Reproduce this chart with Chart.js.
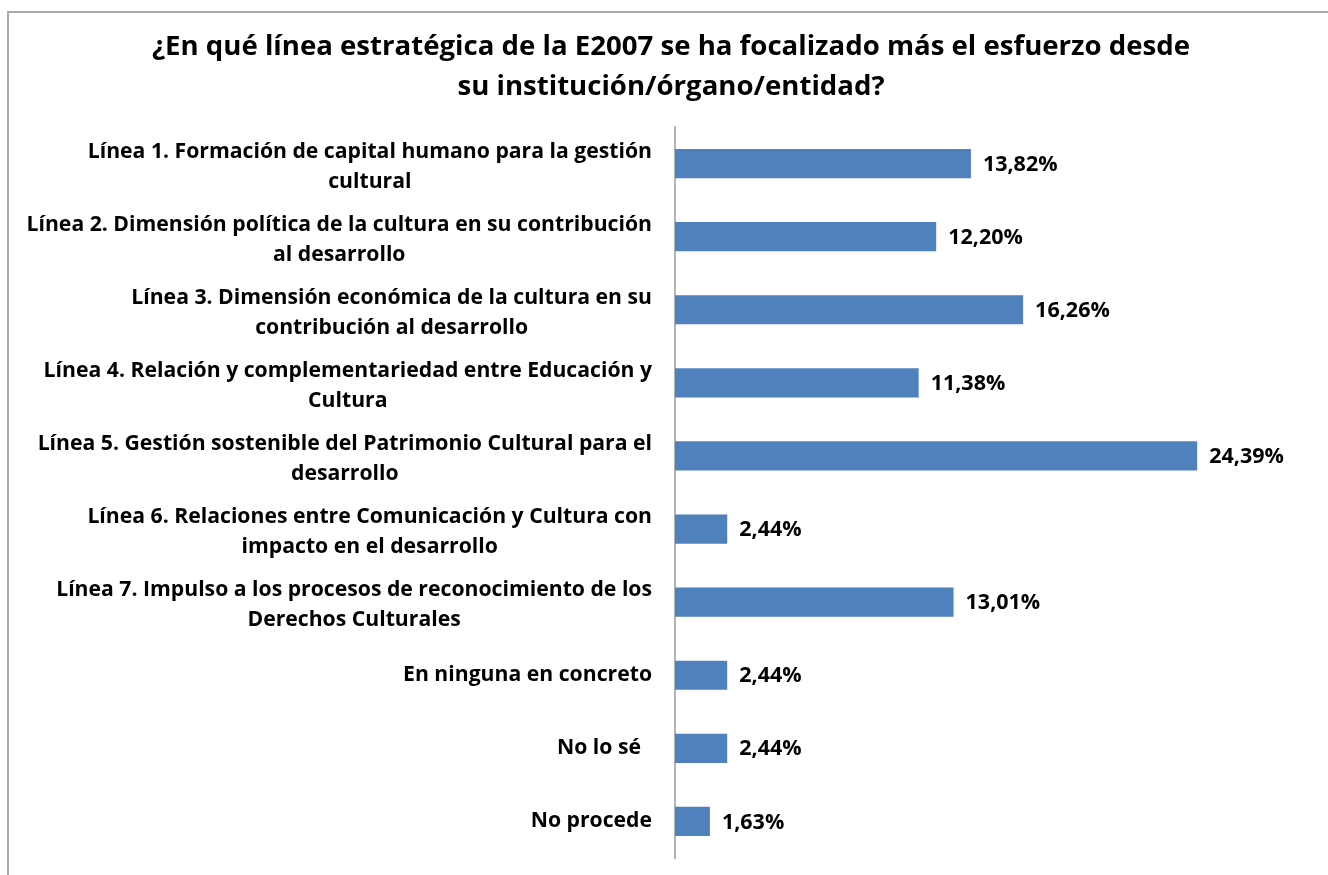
<!DOCTYPE html>
<html>
<head>
<meta charset="utf-8">
<script src="https://cdn.jsdelivr.net/npm/chart.js@4.4.0/dist/chart.umd.min.js"></script>
<style>
html, body { margin: 0; padding: 0; background: #fff; }
#marco { position: absolute; left: 7px; top: 11px; right: 0; bottom: 0; border-top: 2px solid #a8a8a8; border-left: 2px solid #a8a8a8; }
#grafico { position: absolute; left: 0; top: 0; }
</style>
</head>
<body>
<div id="marco"></div>
<canvas id="grafico" width="1328" height="875"></canvas>
<script>
// Datos
const categorias = [
    ['Línea 1. Formación de capital humano para la gestión', 'cultural'],
    ['Línea 2. Dimensión política de la cultura en su contribución', 'al desarrollo'],
    ['Línea 3. Dimensión económica de la cultura en su', 'contribución al desarrollo'],
    ['Línea 4. Relación y complementariedad entre Educación y', 'Cultura'],
    ['Línea 5. Gestión sostenible del Patrimonio Cultural para el', 'desarrollo'],
    ['Línea 6. Relaciones entre Comunicación y Cultura con', 'impacto en el desarrollo'],
    ['Línea 7. Impulso a los procesos de reconocimiento de los', 'Derechos Culturales'],
    'En ninguna en concreto',
    'No lo sé  ',
    'No procede'
];
const porcentajes = [13.82, 12.20, 16.26, 11.38, 24.39, 2.44, 13.01, 2.44, 2.44, 1.63];
const etiquetasValor = ['13,82%', '12,20%', '16,26%', '11,38%', '24,39%', '2,44%', '13,01%', '2,44%', '2,44%', '1,63%'];
const titulo = [
    '¿En qué línea estratégica de la E2007 se ha focalizado más el esfuerzo desde',
    'su institución/órgano/entidad?'
];

const fuente = '"Open Sans", Lato, sans-serif';

// Etiquetas de categoría: bloque alineado a la derecha, líneas centradas entre sí
const etiquetasEjes = {
    id: 'etiquetasEjes',
    afterDraw(chart) {
        const ctx = chart.ctx;
        const escala = chart.scales.y;
        ctx.save();
        ctx.font = 'bold 21.2px ' + fuente;
        ctx.fillStyle = '#000';
        ctx.textBaseline = 'middle';
        ctx.textAlign = 'center';
        categorias.forEach((cat, i) => {
            const lineas = Array.isArray(cat) ? cat : [cat];
            const ancho = Math.max(...lineas.map(l => ctx.measureText(l).width));
            const cx = escala.right - 23 - ancho / 2;
            const cy = escala.getPixelForValue(i) + (lineas.length > 1 ? 3 : 0);
            lineas.forEach((l, j) => {
                ctx.fillText(l, cx, cy + (j - (lineas.length - 1) / 2) * 30);
            });
        });
        ctx.restore();
    }
};

// Valores al final de cada barra
const etiquetasBarras = {
    id: 'etiquetasBarras',
    afterDatasetsDraw(chart) {
        const ctx = chart.ctx;
        const meta = chart.getDatasetMeta(0);
        ctx.save();
        ctx.font = 'bold 21.5px ' + fuente;
        ctx.fillStyle = '#000';
        ctx.textBaseline = 'middle';
        ctx.textAlign = 'left';
        meta.data.forEach((barra, i) => {
            ctx.fillText(etiquetasValor[i], barra.x + 12, barra.y + 1);
        });
        ctx.restore();
    }
};

const ctxGrafico = document.getElementById('grafico').getContext('2d');
const grafico = new Chart(ctxGrafico, {
    type: 'bar',
    data: {
        labels: categorias,
        datasets: [{
            data: porcentajes,
            backgroundColor: '#4f81bd',
            borderWidth: 0,
            categoryPercentage: 1,
            barPercentage: 0.4
        }]
    },
    options: {
        indexAxis: 'y',
        responsive: false,
        animation: false,
        layout: { padding: { top: 27, bottom: 17, right: 0, left: 14 } },
        plugins: {
            legend: { display: false },
            tooltip: { enabled: false },
            title: {
                display: true,
                text: titulo,
                color: '#000',
                font: { family: fuente, size: 27.6, weight: 'bold', lineHeight: '40px' },
                padding: { top: 0, bottom: 20 }
            }
        },
        scales: {
            x: {
                display: false,
                min: 0,
                max: 30.5
            },
            y: {
                afterFit(escala) { escala.width = 661; },
                ticks: { display: false },
                grid: { display: false, drawTicks: false },
                border: { display: true, color: '#b4b4b4', width: 2 }
            }
        }
    },
    plugins: [etiquetasEjes, etiquetasBarras]
});
</script>
</body>
</html>
